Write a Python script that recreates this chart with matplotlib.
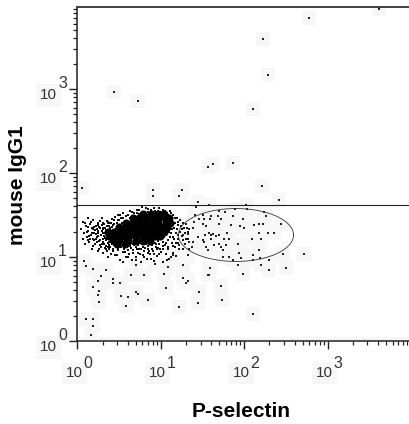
import numpy as np
import matplotlib
matplotlib.use('Agg')
import matplotlib.pyplot as plt

plt.rcParams['font.family'] = ['Liberation Sans', 'DejaVu Sans']

# all events are log10 of fluorescence: (P-selectin, mouse IgG1)
top_events = [(3.61,3.95),(2.78,3.85),(2.22,3.60),(2.28,3.17),(.44,2.96),(.72,2.86),(2.11,2.76),(1.62,2.11),(1.57,2.07),
	(1.86,2.12),(2.21,1.84),(.05,1.82),(.90,1.80),(1.25,1.80),(1.22,1.73),(.90,1.73),(1.45,1.65)]

low_events = [(.08,.95),(.10,.89),(.18,.86),(.34,.85),(.28,.77),(.24,.72),(.42,.74),(.42,.69),(.51,.69),(.64,.79),(.80,.78),
	(.70,.90),(.93,.92),(1.08,.88),(1.04,.80),(1.26,.91),(1.26,.75),(1.32,.71),(1.30,.69),(1.46,.58),(1.45,.45),(.18,.64),
	(.26,.60),(.24,.55),(.26,.46),(.52,.53),(.60,.52),(.70,.58),(.73,.56),(.85,.49),(.58,.42),(1.06,.63),(1.22,.41),(.10,.26),
	(.18,.26),(.18,.18),(.16,.07),(1.72,.66),(1.73,.49),(2.10,.32),(2.72,1.04),(1.57,.78)]

gate_events = [(1.44,1.65),(1.58,1.62),(2.02,1.62),(2.42,1.68),(1.42,1.60),(1.70,1.55),(1.89,1.57),(2.03,1.57),(2.24,1.53),
	(1.41,1.50),(1.50,1.50),(1.60,1.49),(1.68,1.49),(1.77,1.53),(1.86,1.49),(2.26,1.49),(1.46,1.45),(1.52,1.45),(1.59,1.45),
	(1.72,1.45),(1.99,1.45),(1.30,1.39),(1.40,1.42),(1.50,1.39),(1.70,1.39),(1.84,1.38),(1.95,1.37),(2.00,1.35),(2.12,1.38),
	(2.18,1.39),(2.23,1.39),(2.44,1.39),(1.34,1.33),(1.39,1.34),(1.54,1.37),(1.60,1.26),(1.32,1.27),(1.26,1.26),(1.44,1.24),
	(1.53,1.26),(1.58,1.29),(1.63,1.27),(1.70,1.26),(1.79,1.29),(2.09,1.22),(2.18,1.29),(2.28,1.29),(2.36,1.29),(1.34,1.18),
	(1.39,1.18),(1.50,1.20),(1.60,1.22),(1.66,1.25),(1.76,1.22),(1.82,1.22),(1.22,1.14),(1.37,1.12),(1.52,1.18),(1.70,1.16),
	(1.92,1.16),(2.20,1.22),(1.54,1.12),(1.64,1.14),(1.72,1.12),(1.78,1.14),(1.56,1.08),(1.74,1.08),(1.94,1.05),(2.18,1.08),
	(2.46,1.04),(1.15,1.02),(1.33,1.02),(1.74,1.00),(1.82,1.00),(1.86,.96),(1.96,.99),(2.10,1.02),(2.10,.97),(2.19,.99),
	(2.30,.96),(1.26,.91),(1.59,.87),(1.92,.91),(2.20,.91),(2.30,.85),(2.50,.87),(1.58,.79),(1.98,.80)]

# the population itself, outer parts
left_events = [(.04,1.33),(.06,1.21),(.07,1.42),(.08,1.28),(.09,1.15),(.10,1.37),(.11,1.24),(.12,1.46),(.13,1.31),(.14,1.18),
	(.15,1.39),(.16,1.26),(.17,1.10),(.17,1.34),(.18,1.21),(.19,1.44),(.20,1.29),(.21,1.15),(.22,1.37),(.23,1.24),(.24,1.07),
	(.24,1.41),(.25,1.31),(.26,1.19),(.27,1.35),(.28,1.26),(.28,1.12),(.29,1.46),(.30,1.22),(.31,1.33),(.32,1.16),(.32,1.39),
	(.33,1.28),(.34,1.09),(.34,1.20),(.35,1.43),(.36,1.31),(.37,1.25),(.38,1.14),(.38,1.37),(.36,1.42),(.38,1.18),(.39,1.34),
	(.40,1.27),(.41,1.45),(.42,1.21),(.43,1.38),(.44,1.14),(.45,1.48),(.46,1.33),(.47,1.41),(.48,1.22),(.49,1.44),(.50,1.16),
	(.51,1.50),(.52,1.46),(.53,1.20),(.35,1.22),(.37,1.30),(.39,1.12),(.41,1.36),(.43,1.24),(.45,1.18),(.37,1.41),(.33,1.35),
	(.30,1.28),(.27,1.20),(.31,1.40),(.29,1.15),(.25,1.38),(.36,1.17),(.40,1.40),(.44,1.44),(.13,1.36),(.15,1.22),(.19,1.13),
	(.21,1.32),(.22,1.21),(.24,1.28),(.26,1.36),(.27,1.14),(.29,1.31),(.30,1.18),(.32,1.25),(.33,1.11),(.34,1.32),(.36,1.25),
	(.29,1.38),(.25,1.25),(.20,1.20),(.17,1.29),(.23,1.33),(.31,1.21)]

upper_events = [(.48,1.50),(.53,1.47),(.55,1.52),(.60,1.50),(.63,1.55),(.68,1.52),(.71,1.56),(.74,1.51),(.77,1.60),(.80,1.54),
	(.83,1.50),(.85,1.57),(.88,1.53),(.92,1.58),(.94,1.52),(.97,1.55),(1.00,1.50),(1.03,1.56),(1.06,1.52),(1.09,1.48),(1.11,1.55),
	(1.13,1.45),(1.15,1.50),(1.17,1.41),(1.19,1.47),(1.21,1.38),(1.23,1.44),(1.25,1.33),(1.27,1.40),(1.29,1.28),(1.31,1.35),
	(1.33,1.22),(1.16,1.35),(1.18,1.28),(1.20,1.22),(1.14,1.24),(1.12,1.37),(1.10,1.30),(1.13,1.17),(1.17,1.12),(1.21,1.17),
	(1.25,1.25),(1.26,1.10),(1.29,1.16),(1.09,1.20),(1.08,1.41),(1.12,1.29),(1.15,1.42),(1.23,1.30),(1.05,1.14),(1.02,1.18)]

under_events = [(.30,1.05),(.36,1.00),(.38,1.10),(.41,1.16),(.43,1.07),(.45,1.13),(.47,1.02),(.49,1.10),(.51,.97),(.52,1.15),
	(.54,1.06),(.56,1.12),(.58,1.00),(.59,1.17),(.61,1.08),(.63,1.13),(.65,.96),(.66,1.05),(.68,1.14),(.70,1.00),(.71,1.09),
	(.73,1.17),(.75,1.04),(.76,.94),(.78,1.12),(.80,1.07),(.82,1.15),(.83,.98),(.85,1.10),(.87,1.03),(.89,1.14),(.90,1.07),
	(.92,.95),(.93,1.17),(.95,1.01),(.96,1.11),(.98,1.15),(1.00,1.06),(1.02,.94),(1.03,1.10),(1.06,1.03),(1.08,1.12),(1.10,.98),
	(1.14,1.05),(1.18,1.01),(.34,1.13),(.40,1.03),(.48,1.17),(.57,1.06),(.64,1.18),(.74,1.10),(.84,1.05),(.94,1.12)]

ring_events = [(.30,1.34),(.33,1.23),(.35,1.37),(.37,1.12),(.39,1.40),(.40,1.20),(.42,1.31),(.43,1.10),(.44,1.39),(.46,1.18),
	(.47,1.26),(.48,1.36),(.49,1.08),(.50,1.44),(.51,1.24),(.52,1.12),(.53,1.40),(.54,1.17),(.55,1.46),(.56,1.09),(.57,1.20),
	(.58,1.49),(.59,1.13),(.60,1.42),(.61,1.16),(.62,1.03),(.63,1.47),(.64,1.11),(.65,1.53),(.66,1.15),(.67,1.08),(.68,1.49),
	(.69,1.19),(.70,1.12),(.71,1.52),(.72,1.05),(.73,1.14),(.74,1.56),(.75,1.19),(.76,1.09),(.77,1.53),(.78,1.16),(.79,1.02),
	(.80,1.50),(.81,1.11),(.82,1.58),(.83,1.18),(.84,1.13),(.85,1.53),(.86,1.07),(.87,1.17),(.88,1.56),(.89,1.10),(.90,1.52),
	(.91,1.20),(.92,1.04),(.93,1.55),(.94,1.16),(.95,1.09),(.96,1.50),(.97,1.19),(.98,1.58),(.99,1.10),(1.00,1.53),(1.01,1.21),
	(1.02,1.13),(1.03,1.49),(1.04,1.24),(1.05,1.55),(1.06,1.17),(1.07,1.28),(1.08,1.50),(1.09,1.10),(1.10,1.44),(1.11,1.24),
	(1.12,1.52),(1.13,1.33),(1.14,1.13),(1.15,1.38),(1.16,1.21),(1.17,1.47),(1.18,1.17),(1.19,1.33),(1.20,1.42),(1.21,1.26),
	(1.22,1.09),(1.24,1.37),(1.26,1.20),(1.28,1.34),(1.30,1.22),(1.32,1.30),(1.34,1.10),(.60,1.00),(.70,.97),(.80,1.00),(.88,.98),
	(.98,1.03),(1.07,.96),(.55,.94),(1.12,1.00),(.45,1.02),(.35,1.07),(.26,1.10),(.22,1.27),(.18,1.33),(.14,1.25),(.11,1.30),
	(.09,1.40),(.16,1.42),(.20,1.36),(.23,1.18),(.27,1.43),(.12,1.20)]

# solid black middle, too dense to read single events
core_events = [(.78,1.51),(.88,1.51),(.97,1.51),(1.04,1.51),
	(.66,1.46),(.74,1.46),(.82,1.46),(.90,1.46),(.98,1.46),(1.05,1.46),(1.10,1.46),
	(.58,1.41),(.66,1.41),(.74,1.41),(.82,1.41),(.90,1.41),(.97,1.41),(1.06,1.41),(1.11,1.41),
	(.50,1.36),(.57,1.36),(.64,1.36),(.71,1.36),(.78,1.36),(.85,1.36),(.92,1.36),(.99,1.36),(1.07,1.36),
	(.44,1.30),(.52,1.30),(.60,1.30),(.67,1.30),(.75,1.30),(.82,1.30),(.90,1.30),(.97,1.30),(1.04,1.30),
	(.38,1.25),(.46,1.25),(.54,1.25),(.62,1.25),(.70,1.25),(.78,1.25),(.86,1.25),(.93,1.25),(.99,1.25),
	(.36,1.30),(.42,1.20),(.50,1.19),(.60,1.19),(.70,1.19),(.79,1.19),(.87,1.19),(.47,1.15),(.57,1.15)]

threshold = 42
gate_centre = (1.90, 1.262)
gate_radius = (0.69, 0.315)
decades = [0, 1, 2, 3]
x_limits = (1, 9700)
y_limits = (1, 9470)
x_name = 'P-selectin'
y_name = 'mouse IgG1'

def values(events):
	a = 10.0 ** np.array(events)
	return a[:, 0], a[:, 1]

fig = plt.figure(figsize=(4.10, 4.24), dpi=100)
ax = fig.add_axes([77.5/410, (424-341)/424, (410-77.5)/410, (341-7)/424])
ax.set_xscale('log')
ax.set_yscale('log')
ax.set_xlim(x_limits)
ax.set_ylim(y_limits)

# pale jpeg blotches round the lone dots
ax.axhspan(1, 1.13, color='#f6f6f6', lw=0, zorder=0)
for group in (top_events, low_events, gate_events):
	hx, hy = values(group)
	ax.scatter(hx, hy, s=90, marker='s', color='#f7f7f7', linewidths=0, zorder=1)

for group in (top_events, low_events, gate_events):
	px, py = values(group)
	ax.scatter(px, py, s=1.3, marker='s', color='#222222', linewidths=0, zorder=2)
for group in (left_events, upper_events, under_events, ring_events):
	px, py = values(group)
	ax.scatter(px, py, s=2.4, marker='s', color='#111111', linewidths=0, zorder=2)
cx, cy = values(core_events)
ax.scatter(cx, cy, s=34, marker='o', color='black', linewidths=0, zorder=2)

ax.axhline(threshold, color='#222222', lw=0.8, zorder=3)
t = np.linspace(0, 2*np.pi, 200)
ax.plot(10**(gate_centre[0] + gate_radius[0]*np.cos(t)), 10**(gate_centre[1] + gate_radius[1]*np.sin(t)), color='#333333', lw=0.6, zorder=3)

ax.spines['right'].set_visible(False)
ax.spines['top'].set_linewidth(1.4)
ax.spines['top'].set_color('#404040')
ax.spines['left'].set_linewidth(1.1)
ax.spines['bottom'].set_linewidth(1.1)
ax.spines['left'].set_color('#222222')
ax.spines['bottom'].set_color('#222222')
ax.tick_params(which='major', length=5.5, width=1.0, color='#222222', labelbottom=False, labelleft=False)
ax.tick_params(which='minor', length=2.8, width=0.9, color='#222222', labelbottom=False, labelleft=False)
ax.xaxis.set_minor_locator(matplotlib.ticker.LogLocator(base=10, subs=np.arange(2, 10), numticks=12))
ax.yaxis.set_minor_locator(matplotlib.ticker.LogLocator(base=10, subs=np.arange(2, 10), numticks=12))
ax.xaxis.set_minor_formatter(matplotlib.ticker.NullFormatter())
ax.yaxis.set_minor_formatter(matplotlib.ticker.NullFormatter())
ax.set_xticks([10**d for d in decades])
ax.set_yticks([10**d for d in decades])

# tick labels are "10" plus a big raised exponent, offsets are in points
pad = dict(facecolor='#f7f7f7', edgecolor='none', pad=3)
for d in decades:
	v = 10**d
	ax.annotate('10', xy=(v, 0), xycoords=('data', 'axes fraction'), xytext=(3.8, -26), textcoords='offset points',
		ha='right', va='baseline', fontsize=11, color='#333333', bbox=pad, annotation_clip=False)
	ax.annotate(str(d), xy=(v, 0), xycoords=('data', 'axes fraction'), xytext=(4.5, -19.5), textcoords='offset points',
		ha='left', va='baseline', fontsize=11.5, color='#333333', annotation_clip=False)
	ax.annotate('10', xy=(0, v), xycoords=('axes fraction', 'data'), xytext=(-15, -7.5), textcoords='offset points',
		ha='right', va='baseline', fontsize=11, color='#333333', bbox=pad, annotation_clip=False)
	ax.annotate(str(d), xy=(0, v), xycoords=('axes fraction', 'data'), xytext=(-14, 0.5), textcoords='offset points',
		ha='left', va='baseline', fontsize=11.5, color='#333333', annotation_clip=False)

fig.text(241/410, 1-417/424, x_name, ha='center', va='baseline', fontsize=15, fontweight='bold')
fig.text(18/410, 1-185/424, y_name, ha='center', va='center', rotation=90, fontsize=15, fontweight='bold')

fig.savefig('out.png', dpi=100)
